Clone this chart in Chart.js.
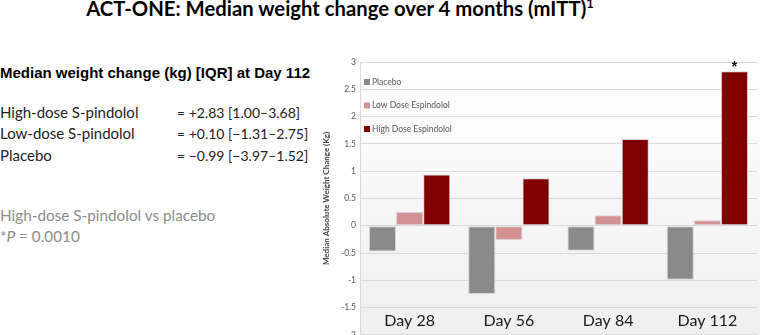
<!DOCTYPE html>
<html lang="en">
  <head>
    <meta charset="UTF-8" />
    <title>ACT-ONE median weight change</title>
    <script src="https://cdn.jsdelivr.net/npm/chart.js"></script>
    <style>
      body { margin: 0; width: 767px; height: 335px; background: #fff; position: relative; overflow: hidden; }
      .title { position: absolute; left: 0; width: 680px; top: -5px; text-align: center; font: bold 20.3px Lato, "Open Sans", sans-serif; color: #000; white-space: nowrap; }
      .title sup { font-size: 13px; }
      .sub { position: absolute; left: 0; top: 64px; font: bold 15px "Liberation Sans", Arial, sans-serif; color: #000; }
      .row { position: absolute; left: 0; font: 15px Lato, "Open Sans", sans-serif; color: #222; }
      .row span { position: absolute; left: 177px; top: 1px; font-size: 14px; white-space: nowrap; }
      .note { position: absolute; left: 0; font: 15.3px Lato, "Open Sans", sans-serif; color: #8c8c8c; }
      #wrap { position: absolute; left: 320px; top: 50px; width: 447px; height: 294px; }
    </style>
  </head>
  <body>
    <div class="title">ACT-ONE: Median weight change over 4 months (mITT)<sup>1</sup></div>
    <div class="sub">Median weight change (kg) [IQR] at Day 112</div>
    <div class="row" style="top: 103px">High-dose S-pindolol<span>= +2.83 [1.00–3.68]</span></div>
    <div class="row" style="top: 124px">Low-dose S-pindolol<span>= +0.10 [−1.31–2.75]</span></div>
    <div class="row" style="top: 146px">Placebo<span>= −0.99 [−3.97–1.52]</span></div>
    <div class="note" style="top: 206px">High-dose S-pindolol vs placebo</div>
    <div class="note" style="top: 227px">*<i>P</i> = 0.0010</div>
    <div id="wrap"><canvas id="chart"></canvas></div>

    <script>
      const days = ["Day 28", "Day 56", "Day 84", "Day 112"];
      const placebo = [-0.47, -1.25, -0.46, -0.99];
      const lowDose = [0.25, -0.26, 0.19, 0.1];
      const highDose = [0.94, 0.87, 1.59, 2.83];
      const seriesNames = ["Placebo", "Low Dose Espindolol", "High Dose Espindolol"];
      const seriesColors = ["#8a8a8a", "#d39191", "#800000"];

      // plot background, in-plot category labels, legend and the asterisk
      const decorPlugin = {
        id: "decor",
        beforeDraw(chart) {
          const { ctx, chartArea: a } = chart;
          const g = ctx.createLinearGradient(0, a.top, 0, a.bottom);
          g.addColorStop(0, "#ffffff");
          g.addColorStop(1, "#efefef");
          ctx.save();
          ctx.fillStyle = g;
          ctx.fillRect(a.left, a.top, a.right - a.left + 3, a.bottom - a.top);
          ctx.restore();
        },
        afterDraw(chart) {
          const { ctx, chartArea: a, scales } = chart;
          ctx.save();
          ctx.fillStyle = "#1a1a1a";
          ctx.font = "16px Lato, 'Open Sans', sans-serif";
          ctx.textAlign = "center";
          ctx.textBaseline = "middle";
          const ly = scales.y.getPixelForValue(-1.75);
          days.forEach((d, i) => ctx.fillText(d, scales.x.getPixelForValue(i), ly));

          ctx.font = "8.5px Lato, 'Open Sans', sans-serif";
          ctx.textAlign = "left";
          chart.data.datasets.forEach((ds, i) => {
            const y = a.top + 20 + i * 23.5;
            ctx.fillStyle = ds.backgroundColor;
            ctx.fillRect(a.left + 4, y - 3, 6, 6);
            ctx.fillStyle = "#595959";
            ctx.fillText(ds.label, a.left + 12, y);
          });

          const bar = chart.getDatasetMeta(2).data[3];
          ctx.fillStyle = "#111";
          ctx.font = "bold 14px 'Liberation Sans', Arial, sans-serif";
          ctx.textAlign = "center";
          ctx.fillText("*", bar.x, bar.y - 4);
          ctx.restore();
        },
      };

      new Chart(document.getElementById("chart"), {
        type: "bar",
        data: {
          labels: days,
          datasets: [placebo, lowDose, highDose].map((data, i) => ({
            label: seriesNames[i],
            data,
            backgroundColor: seriesColors[i],
            borderColor: "#d6d6d6",
            borderWidth: 1,
            borderSkipped: false,
            barPercentage: 1,
            categoryPercentage: 0.82,
          })),
        },
        options: {
          responsive: true,
          maintainAspectRatio: false,
          animation: false,
          layout: { padding: { top: 12, right: 10, bottom: 0, left: 0 } },
          plugins: { legend: { display: false }, tooltip: { enabled: false } },
          scales: {
            x: { display: false },
            y: {
              min: -2,
              max: 3,
              ticks: {
                stepSize: 0.5,
                color: "#595959",
                font: { size: 8.5, family: "Lato, 'Open Sans', sans-serif" },
                padding: 4,
                callback: (v) => String(v),
              },
              grid: { color: "#d9d9d9", drawTicks: false },
              border: { display: true, color: "#d9d9d9" },
              title: {
                display: true,
                text: "Median Absolute Weight Change (Kg)",
                color: "#404040",
                font: { size: 8, weight: "bold", family: "Lato, 'Open Sans', sans-serif" },
                padding: 2,
              },
              afterFit(scale) { scale.width = 40; },
            },
          },
        },
        plugins: [decorPlugin],
      });
    </script>
  </body>
</html>
